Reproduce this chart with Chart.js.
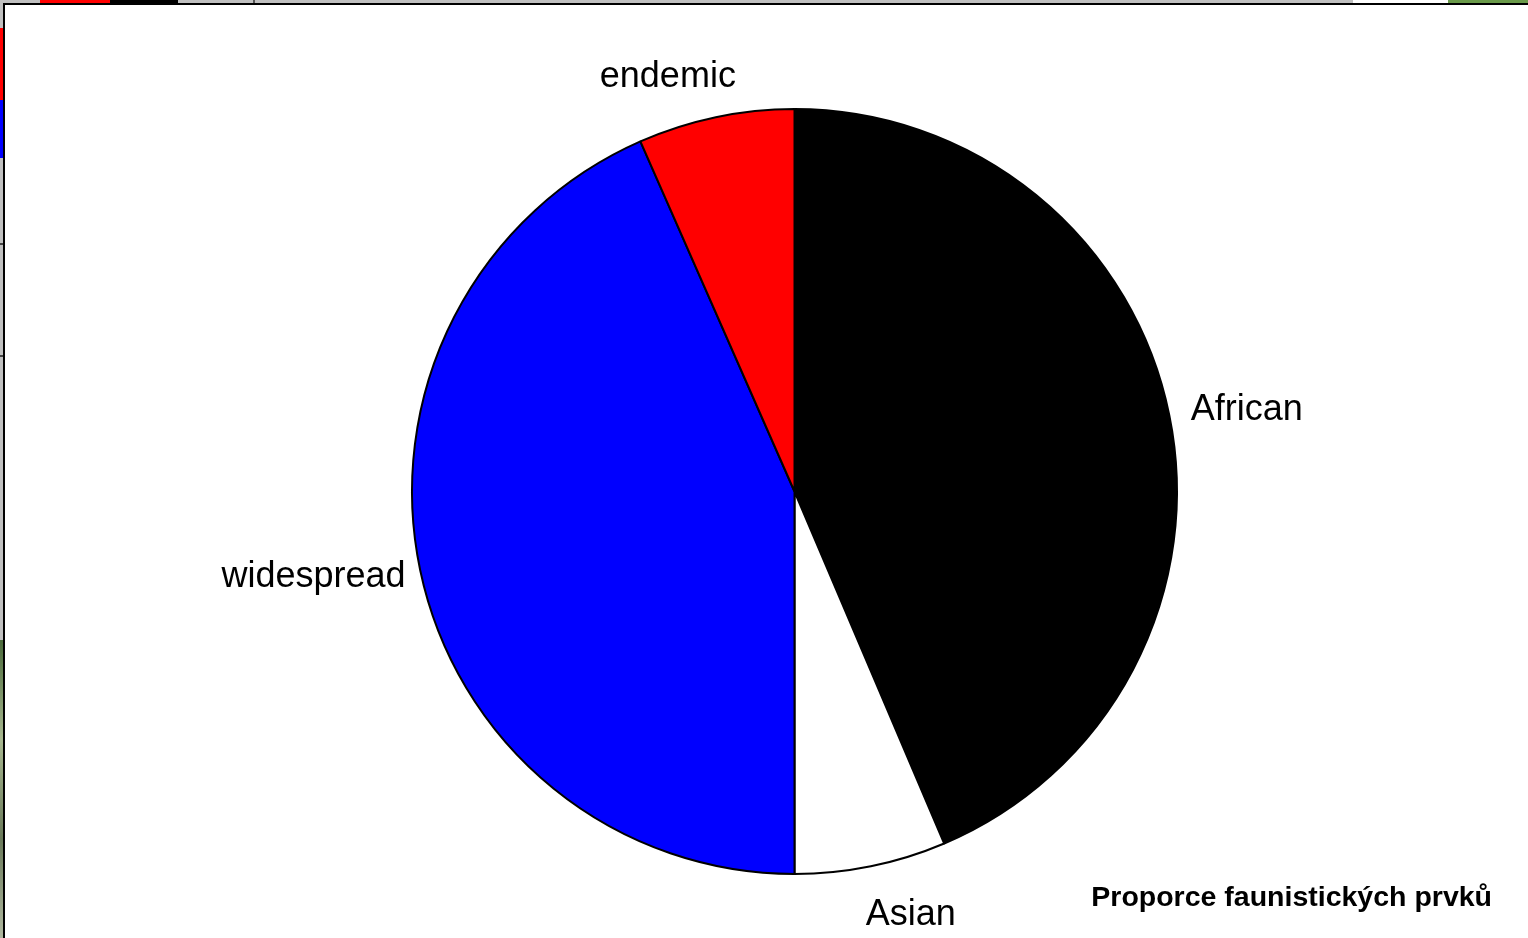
<!DOCTYPE html>
<html>
<head>
<meta charset="utf-8">
<script src="https://cdn.jsdelivr.net/npm/chart.js@4/dist/chart.umd.min.js"></script>
<style>
  html, body { margin:0; padding:0; width:1528px; height:938px; overflow:hidden; background:#c0c0c0; }
  .bit { position:absolute; }
  #panel { position:absolute; left:3px; top:3px; right:0; bottom:0; background:#fff;
           border-left:2px solid #000; border-top:2px solid #000; }
  #wrap { position:absolute; left:0; top:0; width:1528px; height:938px; }
</style>
</head>
<body>
<!-- screenshot edge fragments -->
<div class="bit" style="left:40px;top:0;width:70px;height:4px;background:#ff0000"></div>
<div class="bit" style="left:110px;top:0;width:68px;height:4px;background:#000"></div>
<div class="bit" style="left:253px;top:0;width:2px;height:4px;background:#555"></div>
<div class="bit" style="left:1353px;top:0;width:95px;height:4px;background:#fff"></div>
<div class="bit" style="left:1448px;top:0;width:80px;height:4px;background:#6a9a4a"></div>
<div class="bit" style="left:0;top:28px;width:3px;height:72px;background:#ff0000"></div>
<div class="bit" style="left:0;top:100px;width:3px;height:58px;background:#0000ff"></div>
<div class="bit" style="left:0;top:243px;width:3px;height:2px;background:#444"></div>
<div class="bit" style="left:0;top:355px;width:3px;height:2px;background:#444"></div>
<div class="bit" style="left:0;top:640px;width:3px;height:298px;background:linear-gradient(#4a6a3a,#a8b890,#6a7a5a,#b0b8a0)"></div>
<div id="panel"></div>
<div id="wrap"><canvas id="c"></canvas></div>
<script>
// ---- data ----
const categories = ['African', 'Asian', 'widespread', 'endemic'];
const shares = [43.6, 6.4, 43.4, 6.6];          // percent of fauna elements
const sliceColors = ['#000000', '#ffffff', '#0000ff', '#ff0000'];
const chartTitle = 'Proporce faunistických prvků';

// label fine placement (px) relative to computed outside position, same order as categories
const labelNudge = [[4, -1], [27, 11], [2, -4], [-30, -8]];

const outsideLabels = {
  id: 'outsideLabels',
  afterDatasetsDraw(chart) {
    const ctx = chart.ctx;
    const meta = chart.getDatasetMeta(0);
    ctx.save();
    ctx.font = '36px "Liberation Sans", Arial, sans-serif';
    ctx.fillStyle = '#000';
    ctx.textAlign = 'center';
    ctx.textBaseline = 'alphabetic';
    const capHalf = 13, h = 33, d = 19;
    meta.data.forEach((arc, i) => {
      const p = arc.getProps(['x', 'y', 'startAngle', 'endAngle', 'outerRadius'], true);
      const mid = (p.startAngle + p.endAngle) / 2;
      const ux = Math.cos(mid), uy = Math.sin(mid);
      const w = ctx.measureText(chart.data.labels[i]).width;
      const r = p.outerRadius + d;
      const cx = p.x + ux * r + ux * w / 2 + labelNudge[i][0];
      const cy = p.y + uy * r + uy * h / 2 + labelNudge[i][1];
      ctx.fillText(chart.data.labels[i], cx, cy + capHalf);
    });
    // title
    ctx.font = 'bold 28.5px "Liberation Sans", Arial, sans-serif';
    ctx.textAlign = 'right';
    ctx.fillText(chartTitle, chart.width - 36, 906);
    ctx.restore();
  }
};

new Chart(document.getElementById('c'), {
  type: 'pie',
  data: {
    labels: categories,
    datasets: [{
      data: shares,
      backgroundColor: sliceColors,
      borderColor: '#000000',
      borderWidth: 2,
      hoverOffset: 0
    }]
  },
  options: {
    responsive: true,
    maintainAspectRatio: false,
    animation: false,
    events: [],
    layout: { padding: { left: 411, right: 350, top: 108, bottom: 63 } },
    plugins: {
      legend: { display: false },
      tooltip: { enabled: false },
      title: { display: false }
    }
  },
  plugins: [outsideLabels]
});
</script>
</body>
</html>
